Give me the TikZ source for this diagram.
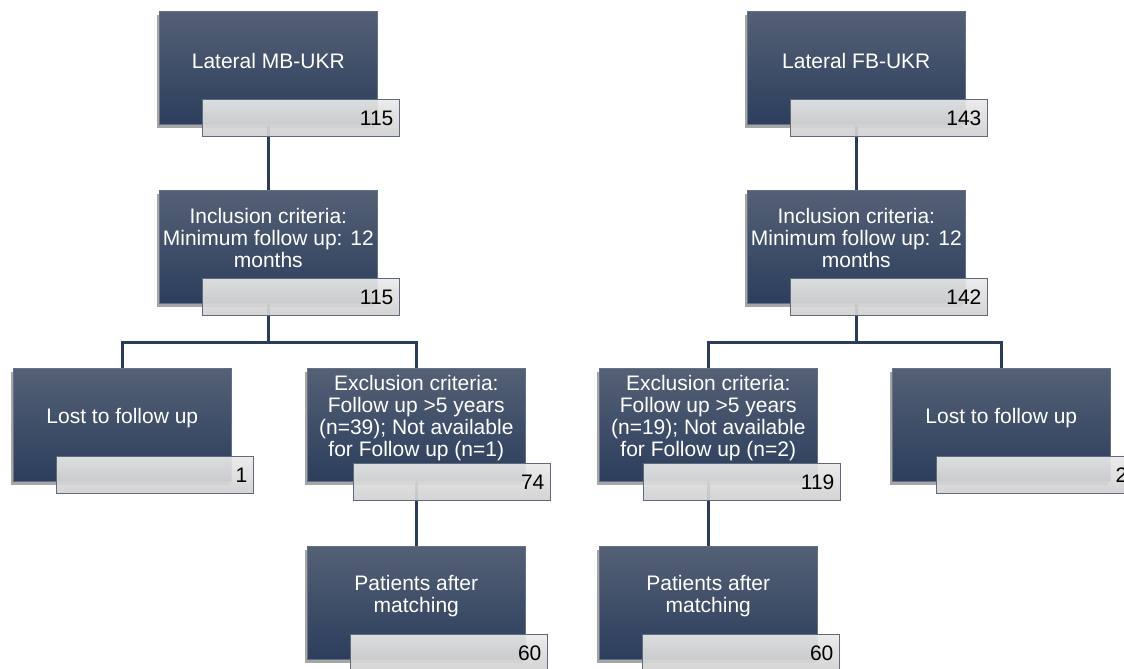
\documentclass[tikz,border=0pt]{standalone}
\usepackage{fontspec}
\setmainfont{Liberation Sans}
\usetikzlibrary{shadows,backgrounds}
\definecolor{dtop}{RGB}{84,96,117}
\definecolor{dbot}{RGB}{44,62,93}
\definecolor{dedge}{RGB}{100,113,133}
\definecolor{ltop}{RGB}{234,234,234}
\definecolor{lbot}{RGB}{208,208,208}
\definecolor{ledge}{RGB}{95,107,125}
\definecolor{conncol}{RGB}{43,60,88}
\newcommand\stepnode[8]{%
  \node[darkbox, anchor=north west] (#1) at (#2,#3) {};
  \node[boxtext] (#1-t) at ([yshift=#8]#1.center) {#6};
  \node[numbox, anchor=north west] (#1-n) at (#2+#4,#3+#5) {#7};
}
\begin{document}
\begin{tikzpicture}[x=1pt,y=-1pt,
  darkbox/.style={draw=dedge, line width=0.6pt, top color=dtop, bottom color=dbot,
    minimum width=218pt, minimum height=113pt, inner sep=0pt,
    drop shadow={shadow xshift=-2pt, shadow yshift=-4pt, opacity=0.35, fill=black}},
  boxtext/.style={text=white, font=\fontsize{21}{22}\selectfont, align=center, inner sep=0pt},
  numbox/.style={draw=ledge, line width=0.8pt, top color=ltop, bottom color=lbot,
    fill opacity=0.92, text opacity=1, minimum width=197pt, minimum height=37pt,
    text width=185pt, align=right, inner xsep=6pt, inner ysep=0pt,
    font=\fontsize{21}{22}\selectfont, text=black},
  conn/.style={draw=conncol, line width=2.5pt}
]
\path[use as bounding box, clip] (0,0) rectangle (1124,669);

% left branch
\stepnode{A}{159}{11}{43}{88}{Lateral MB-UKR}{115}{7pt}
\stepnode{B}{159}{190}{43}{88}{Inclusion criteria:\\Minimum follow up: 12\\months}{115}{9pt}
\stepnode{C}{13}{368}{43}{88}{Lost to follow up}{1}{7pt}
\stepnode{D}{307}{368}{46}{95}{Exclusion criteria:\\Follow up >5 years\\(n=39); Not available\\for Follow up (n=1)}{74}{7pt}
\stepnode{E}{307}{546}{43}{88}{Patients after\\matching}{60}{7pt}

% right branch
\stepnode{A2}{747}{11}{43}{88}{Lateral FB-UKR}{143}{7pt}
\stepnode{B2}{747}{190}{43}{88}{Inclusion criteria:\\Minimum follow up: 12\\months}{142}{9pt}
\stepnode{D2}{599}{368}{44}{95}{Exclusion criteria:\\Follow up >5 years\\(n=19); Not available\\for Follow up (n=2)}{119}{7pt}
\stepnode{C2}{892}{368}{44}{88}{Lost to follow up}{2}{7pt}
\stepnode{E2}{599}{546}{43}{88}{Patients after\\matching}{60}{7pt}

\path (B.south) ++(0,39) coordinate (fL);
\path (B2.south) ++(0,39) coordinate (fR);

\begin{scope}[on background layer]
  \draw[conn] (A.south) -- (B.north);
  \draw[conn] (B.south) -- (fL);
  \draw[conn] (C.north) |- (fL) -| (D.north);
  \draw[conn] (D.south) -- (E.north);
  \draw[conn] (A2.south) -- (B2.north);
  \draw[conn] (B2.south) -- (fR);
  \draw[conn] (D2.north) |- (fR) -| (C2.north);
  \draw[conn] (D2.south) -- (E2.north);
\end{scope}
\end{tikzpicture}
\end{document}
